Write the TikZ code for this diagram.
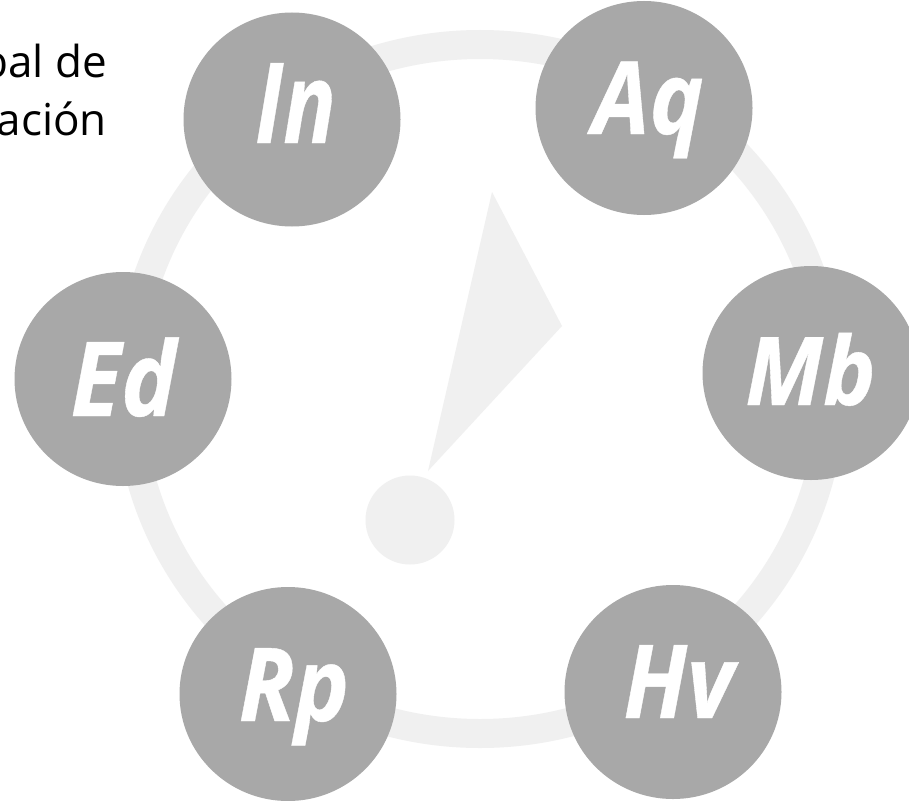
\documentclass[tikz,border=0pt]{standalone}
\usepackage{fontspec}
\setmainfont{Open Sans}
\newfontfamily\labfont[FakeBold=0.4]{Open Sans}
\usetikzlibrary{shapes.geometric}
\definecolor{disc}{HTML}{A8A8A8}
\definecolor{pale}{HTML}{F0F0F0}
\newcommand{\lbltxt}[3]{{\fontsize{#1}{#1}\selectfont\scalebox{#2}[1]{#3}}}
\tikzset{
  stage/.style={draw=none,fill=disc,ellipse,minimum width=217pt,minimum height=214pt,inner sep=0pt},
  ringband/.style={draw=pale,line width=29pt},
  lab/.style={text=white,anchor=base,inner sep=0pt,font=\labfont\bfseries\itshape},
  captxt/.style={text=black,font=\fontsize{44}{57}\selectfont,anchor=base east,inner sep=0pt}
}
\begin{document}
\begin{tikzpicture}[x=1pt,y=-1pt]
\path[use as bounding box] (0,0) rectangle (909,800);
\clip (0,0) rectangle (909,800);
\fill[white] (0,0) rectangle (909,800);
\draw[ringband] (480,389) ellipse [x radius=351pt,y radius=344.5pt];
\fill[pale] (492,192) -- (562,326) -- (428,471) -- cycle;
\node[circle,fill=pale,minimum size=89pt,inner sep=0pt] (dot) at (410,520) {};
\node[stage] (In) at (292,119.5) {};
\node[stage] (Aq) at (644,108) {};
\node[stage] (Mb) at (811,373) {};
\node[stage] (Ed) at (123,379) {};
\node[stage] (Rp) at (288,694) {};
\node[stage] (Hv) at (673,692) {};
\node[lab] (lIn) at (295.5,143) {\lbltxt{112}{.78}{In}};
\node[lab] (lAq) at (648,134) {\lbltxt{101}{.9}{Aq}};
\node[lab] (lMb) at (810.5,405) {\lbltxt{95}{.93}{Mb}};
\node[lab] (lEd) at (123.5,416) {\lbltxt{103.6}{.9}{Ed}};
\node[lab] (lRp) at (294,721) {\lbltxt{102}{.9}{Rp}};
\node[lab] (lHv) at (678.5,718) {\lbltxt{102}{.89}{Hv}};
\node[captxt] (c1) at (107,77) {bal de};
\node[captxt] (c2) at (107,135) {ación};
\end{tikzpicture}
\end{document}
